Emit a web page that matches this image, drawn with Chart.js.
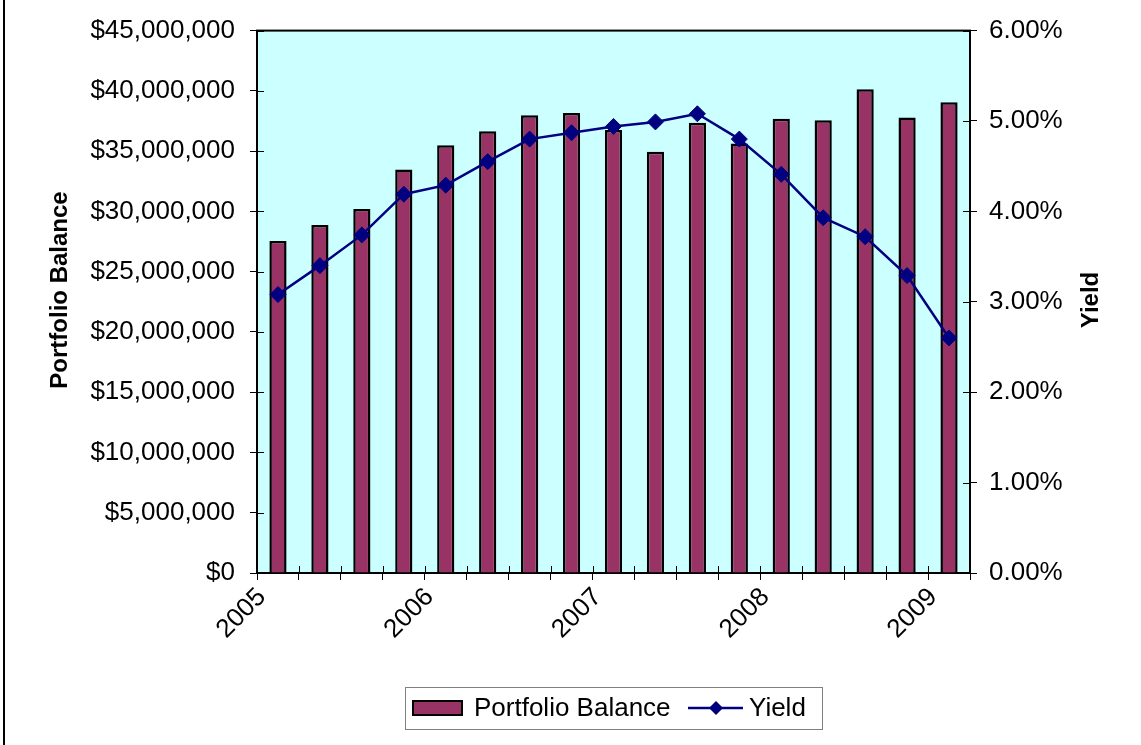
<!DOCTYPE html>
<html>
<head>
<meta charset="utf-8">
<script src="https://cdn.jsdelivr.net/npm/chart.js@4"></script>
<style>
  html, body { margin: 0; padding: 0; background: #fff; }
  #wrap { width: 1141px; height: 745px; }
</style>
</head>
<body>
<div id="wrap"><canvas id="myChart" width="1141" height="745"></canvas></div>
<script>
// quarterly data, 2005 Q1 .. 2009 Q1
const quarters = ['2005 Q1', '2005 Q2', '2005 Q3', '2005 Q4',
                  '2006 Q1', '2006 Q2', '2006 Q3', '2006 Q4',
                  '2007 Q1', '2007 Q2', '2007 Q3', '2007 Q4',
                  '2008 Q1', '2008 Q2', '2008 Q3', '2008 Q4',
                  '2009 Q1'];
const yearLabels = ['2005', '2006', '2007', '2008', '2009'];
const balance = [27550000, 28870000, 30200000, 33470000, 35480000, 36640000, 37980000, 38170000,
                 36750000, 34950000, 37350000, 35640000, 37680000, 37570000, 40130000, 37790000, 39060000];
const yieldPct = [3.08, 3.40, 3.74, 4.19, 4.29, 4.55, 4.80, 4.87,
                  4.94, 4.99, 5.08, 4.80, 4.41, 3.93, 3.72, 3.29, 2.60];

const FONT = 'Liberation Sans, Arial, sans-serif';
const TICK = 7;

const chartDeco = {
    id: 'chartDeco',
    beforeDraw(chart) {
        const ctx = chart.ctx;
        ctx.save();
        ctx.fillStyle = '#fff';
        ctx.fillRect(0, 0, chart.width, chart.height);
        ctx.strokeStyle = '#000';
        ctx.lineWidth = 2;
        ctx.beginPath();
        ctx.moveTo(4, 0);
        ctx.lineTo(4, chart.height);
        ctx.stroke();
        ctx.restore();
    },
    beforeDatasetsDraw(chart) {
        const { ctx, chartArea: a, scales } = chart;
        ctx.save();
        ctx.fillStyle = '#CCFFFF';
        ctx.fillRect(a.left, a.top, a.right - a.left, a.bottom - a.top);

        // inner half of the cross tick marks
        ctx.strokeStyle = '#000';
        ctx.lineWidth = 1;
        ctx.beginPath();
        scales.x.ticks.forEach(t => {
            const px = Math.round(scales.x.getPixelForValue(t.value)) + 0.5;
            ctx.moveTo(px, a.bottom);
            ctx.lineTo(px, a.bottom - TICK);
        });
        scales.y.ticks.forEach(t => {
            const py = Math.round(scales.y.getPixelForValue(t.value)) + 0.5;
            ctx.moveTo(a.left, py);
            ctx.lineTo(a.left + TICK, py);
        });
        scales.y1.ticks.forEach(t => {
            const py = Math.round(scales.y1.getPixelForValue(t.value)) + 0.5;
            ctx.moveTo(a.right, py);
            ctx.lineTo(a.right - TICK, py);
        });
        ctx.stroke();

        ctx.lineWidth = 2;
        ctx.strokeRect(a.left, a.top, a.right - a.left, a.bottom - a.top);
        ctx.restore();
    },
    afterDraw(chart) {
        const ctx = chart.ctx;
        ctx.save();
        ctx.fillStyle = '#000';
        ctx.font = 'bold 24px ' + FONT;
        ctx.textAlign = 'center';
        ctx.textBaseline = 'middle';
        ctx.translate(60, 290);
        ctx.rotate(-Math.PI / 2);
        ctx.fillText('Portfolio Balance', 0, 0);
        ctx.restore();

        ctx.save();
        ctx.fillStyle = '#000';
        ctx.font = 'bold 24px ' + FONT;
        ctx.textAlign = 'center';
        ctx.textBaseline = 'middle';
        ctx.translate(1091, 300);
        ctx.rotate(-Math.PI / 2);
        ctx.fillText('Yield', 0, 0);
        ctx.restore();

        // legend
        ctx.save();
        ctx.strokeStyle = '#808080';
        ctx.lineWidth = 1;
        ctx.strokeRect(405.5, 687.5, 417, 42);
        ctx.fillStyle = '#993366';
        ctx.fillRect(412, 700, 51, 16);
        ctx.strokeStyle = '#000';
        ctx.lineWidth = 2;
        ctx.strokeRect(413, 701, 49, 14);
        ctx.fillStyle = '#000';
        ctx.font = '26px ' + FONT;
        ctx.textBaseline = 'middle';
        ctx.fillText('Portfolio Balance', 474, 709);
        ctx.strokeStyle = '#000080';
        ctx.lineWidth = 2.5;
        ctx.beginPath();
        ctx.moveTo(688, 708);
        ctx.lineTo(743, 708);
        ctx.stroke();
        ctx.fillStyle = '#000080';
        ctx.beginPath();
        ctx.moveTo(716, 701);
        ctx.lineTo(723, 708);
        ctx.lineTo(716, 715);
        ctx.lineTo(709, 708);
        ctx.closePath();
        ctx.fill();
        ctx.fillStyle = '#000';
        ctx.fillText('Yield', 749, 709);
        ctx.restore();
    }
};

const ctx = document.getElementById('myChart').getContext('2d');
new Chart(ctx, {
    type: 'bar',
    data: {
        datasets: [
            {
                type: 'line',
                label: 'Yield',
                data: yieldPct.map((v, i) => ({ x: i + 0.5, y: v })),
                yAxisID: 'y1',
                borderColor: '#000080',
                borderWidth: 2.5,
                pointStyle: 'rectRot',
                pointRadius: 8,
                pointBackgroundColor: '#000080',
                pointBorderColor: '#000080',
                pointBorderWidth: 1,
                tension: 0,
                order: 0
            },
            {
                label: 'Portfolio Balance',
                data: balance.map((v, i) => ({ x: i + 0.5, y: v })),
                yAxisID: 'y',
                backgroundColor: '#993366',
                borderColor: '#000',
                borderWidth: 2.5,
                categoryPercentage: 1,
                barPercentage: 0.41,
                order: 1
            }
        ]
    },
    options: {
        responsive: false,
        animation: false,
        layout: { padding: { top: 28, left: 0, right: 0, bottom: 0 } },
        plugins: {
            legend: { display: false },
            tooltip: { enabled: false }
        },
        scales: {
            x: {
                type: 'linear',
                min: 0,
                max: quarters.length,
                offset: false,
                grid: { offset: false, drawOnChartArea: false, tickLength: TICK, color: '#000' },
                border: { display: false },
                ticks: {
                    stepSize: 1,
                    autoSkip: false,
                    maxRotation: 45,
                    minRotation: 45,
                    padding: 2,
                    labelOffset: 5,
                    color: '#000',
                    font: { family: FONT, size: 26 },
                    callback: v => (v % 4 === 0 ? yearLabels[v / 4] : '')
                },
                afterFit: s => { s.height = 172; }
            },
            y: {
                position: 'left',
                min: 0,
                max: 45000000,
                grid: { drawOnChartArea: false, tickLength: TICK, color: '#000' },
                border: { display: false },
                ticks: {
                    stepSize: 5000000,
                    padding: 15,
                    color: '#000',
                    font: { family: FONT, size: 26 },
                    callback: v => '$' + v.toLocaleString('en-US')
                },
                afterFit: s => { s.width = 257; }
            },
            y1: {
                position: 'right',
                min: 0,
                max: 6,
                grid: { drawOnChartArea: false, tickLength: TICK, color: '#000' },
                border: { display: false },
                ticks: {
                    stepSize: 1,
                    padding: 12,
                    color: '#000',
                    font: { family: FONT, size: 26 },
                    callback: v => v.toFixed(2) + '%'
                },
                afterFit: s => { s.width = 171; }
            }
        }
    },
    plugins: [chartDeco]
});
</script>
</body>
</html>
